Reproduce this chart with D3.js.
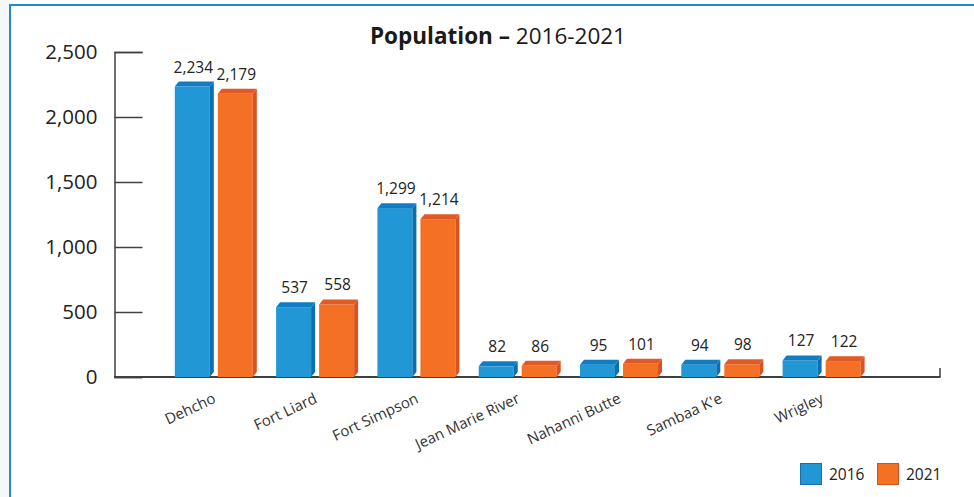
<!DOCTYPE html>
<html><head><meta charset="utf-8">
<script src="https://cdn.jsdelivr.net/npm/d3@7"></script>
<style>
html,body{margin:0;padding:0;background:#fff;}
svg{display:block;font-family:"Open Sans",sans-serif;}
</style></head>
<body>
<svg id="c" width="974" height="497"></svg>
<script>
const categories = ["Dehcho","Fort Liard","Fort Simpson","Jean Marie River","Nahanni Butte","Sambaa K'e","Wrigley"];
const series2016 = [2234,537,1299,82,95,94,127];
const series2021 = [2179,558,1214,86,101,98,122];
const seriesNames = ["2016","2021"];
const yTicks = [0,500,1000,1500,2000,2500];

const svg = d3.select("#c");
// page background + border
svg.append("rect").attr("x",0).attr("y",0).attr("width",9).attr("height",497).attr("fill","#f6f8f8");
svg.append("rect").attr("x",10).attr("y",5).attr("width",1000).attr("height",600)
  .attr("fill","#fff").attr("stroke","#1f8bd0").attr("stroke-width",2);

const y = d3.scaleLinear().domain([0,2500]).range([377,52]);
const x = d3.scaleBand().domain(categories).range([114.5,114.5+101.3*8]).paddingOuter(0.5).paddingInner(0);

// title
const title = svg.append("text").attr("x",498).attr("y",44).attr("text-anchor","middle")
  .attr("font-size",22.5).attr("fill","#1a1a1a");
title.append("tspan").attr("font-weight","bold").text("Population \u2013");
title.append("tspan").text(" 2016-2021");

// y axis
const yAxis = d3.axisLeft(y).tickValues(yTicks).tickSize(-28).tickPadding(17).tickFormat(d3.format(","));
const gy = svg.append("g").attr("transform","translate(114.5,0)").call(yAxis);
gy.select(".domain").attr("stroke","#404040").attr("stroke-width",1.5);
gy.selectAll(".tick line").attr("stroke","#404040").attr("stroke-width",1.5);
gy.selectAll(".tick text").attr("font-size",20.5).attr("fill","#222").attr("font-family","Open Sans");

// x baseline
svg.append("line").attr("x1",114).attr("x2",940.5).attr("y1",y(0)).attr("y2",y(0))
  .attr("stroke","#404040").attr("stroke-width",2);
svg.append("line").attr("x1",940).attr("x2",940).attr("y1",y(0)).attr("y2",y(0)-9)
  .attr("stroke","#404040").attr("stroke-width",1.5);

const colors = [
  {front:"#2297d6", side:"#0a6fb1", top:"#0f7dc4", stroke:"#1b6ea6"},
  {front:"#f37024", side:"#d9521f", top:"#e15a26", stroke:"#d0531f"}
];
const bw = 35, dx = 4, dy = 5;

function center(c){ return x(c) + x.bandwidth()/2; }

const data = categories.map((c,i)=>({c, vals:[series2016[i], series2021[i]]}));
const g = svg.append("g");
data.forEach(d=>{
  const ctr = center(d.c);
  d.vals.forEach((v,k)=>{
    const x0 = k===0 ? ctr-41 : ctr+2;
    const x1 = x0 + bw;
    const yt = y(v), yb = y(0);
    const col = colors[k];
    g.append("rect").attr("x",x0).attr("y",yt).attr("width",bw).attr("height",yb-yt).attr("fill",col.front);
    g.append("polygon").attr("points",[[x1,yt],[x1+dx,yt-dy],[x1+dx,yb-dy],[x1,yb]].map(p=>p.join(",")).join(" "))
      .attr("fill",col.side);
    g.append("polygon").attr("points",[[x0,yt],[x0+dx,yt-dy],[x1+dx,yt-dy],[x1,yt]].map(p=>p.join(",")).join(" "))
      .attr("fill",col.top);
    g.append("text").attr("x",(x0+x1)/2+1).attr("y",yt-14).attr("text-anchor","middle")
      .attr("font-size",15.5).attr("fill","#222").text(d3.format(",")(v));
  });
  svg.append("text").attr("transform",`translate(${ctr+1},402) rotate(-25)`).attr("text-anchor","end")
    .attr("font-size",15).attr("fill","#333").text(d.c);
});

// legend
const legX = [800,877];
seriesNames.forEach((n,k)=>{
  svg.append("rect").attr("x",legX[k]+0.5).attr("y",463.5).attr("width",21).attr("height",21)
    .attr("fill",colors[k].front).attr("stroke",colors[k].stroke).attr("stroke-width",1);
  svg.append("text").attr("x",legX[k]+29).attr("y",480).attr("font-size",15.5).attr("fill","#222").text(n);
});
</script>
</body></html>
